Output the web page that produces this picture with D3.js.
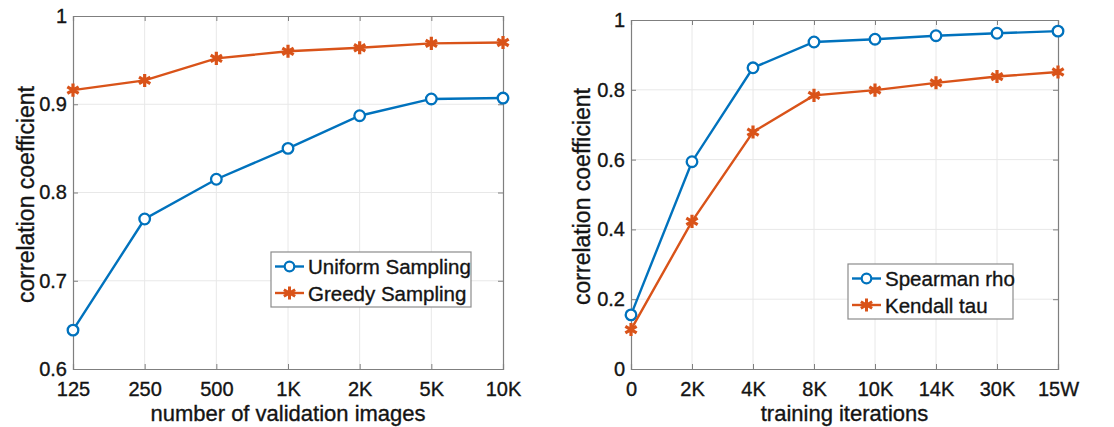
<!DOCTYPE html>
<html>
<head>
<meta charset="utf-8">
<script src="https://cdn.jsdelivr.net/npm/d3@7"></script>
<style>
  body { margin: 0; background: #fff; }
  text { font-family: "Liberation Sans", Arial, Helvetica, sans-serif; fill: #141414; stroke: #141414; stroke-width: 0.35px; }
</style>
</head>
<body>
<div id="chart"></div>
<script>
// left panel
var sizes = ["125", "250", "500", "1K", "2K", "5K", "10K"];
var uniform = [0.644, 0.770, 0.815, 0.850, 0.887, 0.906, 0.907];
var greedy = [0.916, 0.927, 0.952, 0.960, 0.964, 0.969, 0.970];
var leftTicks = [0.6, 0.7, 0.8, 0.9, 1];

// right panel
var iters = ["0", "2K", "4K", "8K", "10K", "14K", "30K", "15W"];
var spearman = [0.155, 0.594, 0.863, 0.937, 0.945, 0.955, 0.962, 0.968];
var kendall = [0.113, 0.423, 0.679, 0.784, 0.799, 0.820, 0.838, 0.851];
var rightTicks = [0, 0.2, 0.4, 0.6, 0.8, 1];

var blue = "#0072BD", orange = "#D95319";

var svg = d3.select("#chart").append("svg")
	.attr("width", 1114)
	.attr("height", 427);

function fmt(d) { return d === 0 || d === 1 ? String(d) : d.toFixed(1); }

function panel(p) {
	var x = d3.scalePoint().domain(p.cats).range([p.x0, p.x1]);
	var y = d3.scaleLinear().domain(p.ydom).range([p.y1, p.y0]);
	var g = svg.append("g");

	// grid
	g.append("g").selectAll("line").data(p.cats.slice(1, -1)).enter().append("line")
		.attr("x1", function(d){ return x(d); }).attr("x2", function(d){ return x(d); })
		.attr("y1", p.y0).attr("y2", p.y1)
		.style("stroke", "#e8e8e8").style("stroke-width", 1);
	g.append("g").selectAll("line").data(p.yticks.slice(1, -1)).enter().append("line")
		.attr("x1", p.x0).attr("x2", p.x1)
		.attr("y1", function(d){ return y(d); }).attr("y2", function(d){ return y(d); })
		.style("stroke", "#e8e8e8").style("stroke-width", 1);

	// axes, ticks pointing inward
	var xa = g.append("g").attr("transform", "translate(0," + p.y1 + ")")
		.call(d3.axisBottom(x).tickSize(-5).tickPadding(13));
	var xt = g.append("g").attr("transform", "translate(0," + p.y0 + ")")
		.call(d3.axisTop(x).tickSize(-5).tickFormat(""));
	var ya = g.append("g").attr("transform", "translate(" + p.x0 + ",0)")
		.call(d3.axisLeft(y).tickValues(p.yticks).tickFormat(fmt).tickSize(-5).tickPadding(6));
	var yr = g.append("g").attr("transform", "translate(" + p.x1 + ",0)")
		.call(d3.axisRight(y).tickValues(p.yticks).tickSize(-5).tickFormat(""));
	[xa, xt, ya, yr].forEach(function(a){
		a.selectAll("path").style("stroke", "#7f7f7f").style("stroke-width", 1.2);
		a.selectAll("line").style("stroke", "#7f7f7f");
		a.selectAll("text").style("font-size", "20px").style("fill", "#141414");
		a.attr("font-family", null);
	});

	// series
	var line = d3.line()
		.x(function(d, i){ return x(p.cats[i]); })
		.y(function(d){ return y(d); });

	g.append("path").datum(p.s1).attr("d", line)
		.style("fill", "none").style("stroke", blue).style("stroke-width", 2.4);
	g.append("g").selectAll("circle").data(p.s1).enter().append("circle")
		.attr("cx", function(d, i){ return x(p.cats[i]); })
		.attr("cy", function(d){ return y(d); })
		.attr("r", 5.3)
		.style("fill", "#fff").style("stroke", blue).style("stroke-width", 2.3);

	g.append("path").datum(p.s2).attr("d", line)
		.style("fill", "none").style("stroke", orange).style("stroke-width", 2.4);
	var star = d3.symbol().type(d3.symbolAsterisk).size(120);
	g.append("g").selectAll("path").data(p.s2).enter().append("path")
		.attr("d", star)
		.attr("transform", function(d, i){ return "translate(" + x(p.cats[i]) + "," + y(d) + ")"; })
		.style("fill", "none").style("stroke", orange).style("stroke-width", 3.2);

	// axis labels
	g.append("text")
		.attr("x", (p.x0 + p.x1) / 2).attr("y", 421)
		.attr("text-anchor", "middle").style("font-size", "22px")
		.text(p.xlabel);
	g.append("text")
		.attr("transform", "translate(" + p.ylx + "," + ((p.y0 + p.y1) / 2 + 2) + ") rotate(-90)")
		.attr("text-anchor", "middle").style("font-size", "23px")
		.text("correlation coefficient");

	// legend
	var L = p.legend;
	g.append("rect")
		.attr("x", L.x).attr("y", L.y).attr("width", L.w).attr("height", L.h)
		.style("fill", "#fff").style("stroke", "#8c8c8c").style("stroke-width", 1.2);
	L.names.forEach(function(name, i){
		var cy = L.y + 14.5 + i * 26.5;
		var col = i === 0 ? blue : orange;
		g.append("line")
			.attr("x1", L.x + 4).attr("x2", L.x + 33).attr("y1", cy).attr("y2", cy)
			.style("stroke", col).style("stroke-width", 2.4);
		if (i === 0) {
			g.append("circle").attr("cx", L.x + 18.5).attr("cy", cy).attr("r", 4.8)
				.style("fill", "#fff").style("stroke", col).style("stroke-width", 2.2);
		} else {
			g.append("path").attr("d", star)
				.attr("transform", "translate(" + (L.x + 18.5) + "," + cy + ")")
				.style("fill", "none").style("stroke", col).style("stroke-width", 3);
		}
		g.append("text")
			.attr("x", L.x + 37).attr("y", cy + 7.5)
			.style("font-size", "20.5px")
			.text(name);
	});
}

panel({
	cats: sizes, s1: uniform, s2: greedy, ydom: [0.6, 1], yticks: leftTicks,
	x0: 73, x1: 503, y0: 16, y1: 369, ylx: 34,
	xlabel: "number of validation images",
	legend: { x: 271, y: 252, w: 200, h: 55, names: ["Uniform Sampling", "Greedy Sampling"] }
});

panel({
	cats: iters, s1: spearman, s2: kendall, ydom: [0, 1], yticks: rightTicks,
	x0: 631, x1: 1058, y0: 20, y1: 369, ylx: 590,
	xlabel: "training iterations",
	legend: { x: 848, y: 264, w: 165, h: 55, names: ["Spearman rho", "Kendall tau"] }
});
</script>
</body>
</html>
